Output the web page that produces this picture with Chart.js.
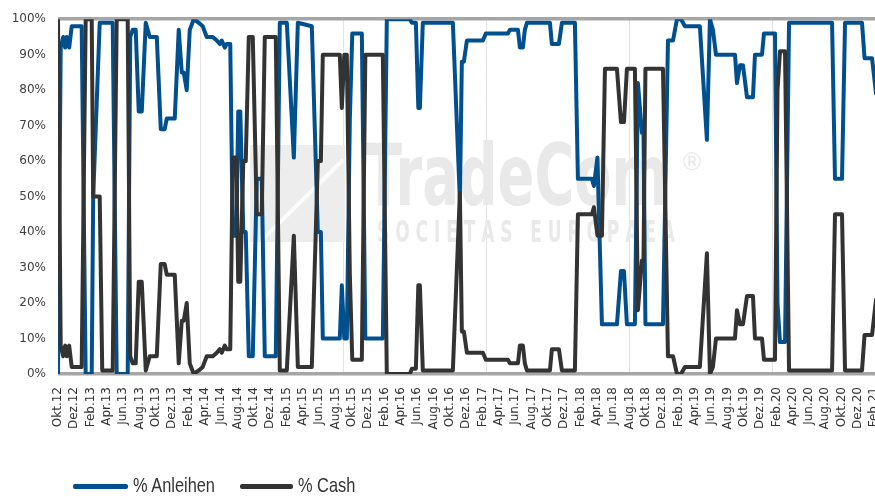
<!DOCTYPE html>
<html>
<head>
<meta charset="utf-8">
<script src="https://cdn.jsdelivr.net/npm/chart.js@4.4.1/dist/chart.umd.min.js"></script>
<style>
  html, body { margin: 0; padding: 0; background: #fff; overflow: hidden; }
  #wrap { position: relative; width: 900px; height: 497px; }
  .swatch { position: absolute; height: 5px; top: 484px; border-radius: 2px; }
  .name {
    position: absolute; top: 473px; white-space: nowrap;
    font-family: "Liberation Sans", Arial, sans-serif; font-size: 21px; color: #333;
    transform: scaleX(0.78); transform-origin: left center;
  }
</style>
</head>
<body>
<div id="wrap">
  <canvas id="allocChart" width="900" height="497"></canvas>
  <div id="legend"></div>
</div>
<script>
// x axis labels, one every 2 months starting Okt.12
const monthLabels = [
  "Okt.12","Dez.12","Feb.13","Apr.13","Jun.13","Aug.13","Okt.13","Dez.13",
  "Feb.14","Apr.14","Jun.14","Aug.14","Okt.14","Dez.14","Feb.15","Apr.15",
  "Jun.15","Aug.15","Okt.15","Dez.15","Feb.16","Apr.16","Jun.16","Aug.16",
  "Okt.16","Dez.16","Feb.17","Apr.17","Jun.17","Aug.17","Okt.17","Dez.17",
  "Feb.18","Apr.18","Jun.18","Aug.18","Okt.18","Dez.18","Feb.19","Apr.19",
  "Jun.19","Aug.19","Okt.19","Dez.19","Feb.20","Apr.20","Jun.20","Aug.20",
  "Okt.20","Dez.20","Feb.21"
];

// observation times in months since Okt.12
const months = [
  0.00, 0.33, 0.64, 0.88, 1.07, 1.37, 1.68, 2.90, 3.39, 4.13,
  4.31, 5.11, 5.42, 6.70, 7.19, 8.54, 8.85, 9.15, 9.52, 9.89,
  10.26, 10.75, 11.24, 12.10, 12.59, 13.07, 13.32, 14.30, 14.79, 15.16,
  15.40, 15.77, 16.14, 16.63, 17.24, 17.73, 18.22, 18.96, 19.45, 19.82,
  20.06, 20.43, 20.67, 21.10, 21.41, 21.84, 22.08, 22.33, 22.70, 23.00,
  23.37, 23.86, 24.35, 24.96, 25.33, 26.68, 27.17, 28.03, 28.89, 29.38,
  31.09, 31.83, 32.20, 32.44, 34.52, 34.77, 35.07, 35.38, 35.75, 36.05,
  37.22, 37.65, 39.79, 40.28, 43.10, 43.35, 43.84, 44.14, 44.33, 44.69,
  48.37, 49.23, 49.47, 49.72, 50.09, 52.05, 52.41, 55.11, 55.36, 56.34,
  56.58, 56.95, 57.19, 57.44, 60.26, 60.50, 61.36, 61.73, 63.32, 63.69,
  65.40, 65.65, 66.08, 66.63, 67.00, 68.47, 68.96, 69.33, 69.69, 70.67,
  71.04, 71.53, 71.72, 71.96, 74.11, 74.72, 75.34, 75.82, 76.31, 76.80,
  78.63, 79.49, 79.86, 80.23, 80.60, 82.93, 83.17, 83.54, 83.91, 84.40,
  85.13, 85.38, 86.24, 86.48, 87.83, 88.14, 88.44, 89.06, 89.55, 94.82,
  95.18, 96.04, 96.41, 98.49, 98.80, 99.72, 100.21
];

const anleihen = [
  0, 92, 95, 92, 95, 92, 98, 98, 0, 0,
  50, 99, 99, 99, 0, 0, 95, 97, 97, 74,
  74, 99, 95, 95, 69, 69, 72, 72, 97, 85,
  85, 80, 97, 100, 99, 98, 95, 95, 94, 93,
  94, 92, 93, 93, 39, 39, 74, 74, 40, 40,
  5, 5, 55, 55, 5, 5, 99, 99, 61, 99,
  98, 40, 40, 10, 10, 25, 10, 10, 72, 96,
  96, 10, 10, 100, 100, 99, 99, 75, 75, 99,
  99, 49, 88, 88, 94, 94, 96, 96, 97, 97,
  92, 92, 97, 99, 99, 93, 93, 99, 99, 55,
  55, 53, 61, 14, 14, 14, 29, 29, 14, 14,
  82, 68, 68, 14, 14, 94, 94, 100, 100, 98,
  98, 66, 100, 97, 90, 90, 82, 87, 87, 78,
  78, 90, 90, 96, 96, 20, 9, 9, 99, 99,
  55, 55, 99, 99, 89, 89, 79
];

const cash = [
  100, 8, 5, 8, 5, 8, 2, 2, 100, 100,
  50, 50, 1, 1, 100, 100, 5, 3, 3, 26,
  26, 1, 5, 5, 31, 31, 28, 28, 3, 15,
  15, 20, 3, 0, 1, 2, 5, 5, 6, 7,
  6, 8, 7, 7, 61, 61, 26, 26, 60, 60,
  95, 95, 45, 45, 95, 95, 1, 1, 39, 2,
  2, 60, 60, 90, 90, 75, 90, 90, 28, 4,
  4, 90, 90, 0, 0, 1.5, 1.5, 25, 25, 1,
  1, 51, 12, 12, 6, 6, 4, 4, 3, 3,
  8, 8, 3, 1, 1, 7, 7, 1, 1, 45,
  45, 47, 39, 39, 86, 86, 71, 71, 86, 86,
  18, 32, 32, 86, 86, 5, 5, 0, 0, 2,
  2, 34, 0, 2, 10, 10, 18, 14, 14, 22,
  22, 10, 10, 4, 4, 80, 91, 91, 1, 1,
  45, 45, 1, 1, 11, 11, 21
];

const BLUE = '#004f8e';
const DARK = '#333333';
const AXIS_GREY = '#a6a6a6';

const toPoints = (ys) => months.map((m, i) => ({ x: m, y: ys[i] }));

// faint company logo behind the lines
const watermark = {
  id: 'watermark',
  beforeDatasetsDraw(chart) {
    const c = chart.ctx;
    const fit = (text, x, y, w) => {
      const m = c.measureText(text).width;
      c.save();
      c.translate(x, y);
      c.scale(w / m, 1);
      c.fillText(text, 0, 0);
      c.restore();
    };
    c.save();
    c.fillStyle = '#ededed';
    c.beginPath();
    c.moveTo(250, 145); c.lineTo(345, 145); c.lineTo(345, 242); c.lineTo(250, 242);
    c.closePath(); c.fill();
    c.strokeStyle = '#fbfbfb'; c.lineWidth = 4;
    c.beginPath(); c.moveTo(262, 240); c.lineTo(343, 160); c.stroke();
    c.fillStyle = '#e9e9e9';
    c.font = 'bold 86px "DejaVu Sans Condensed", sans-serif';
    fit('TradeCom', 365, 205, 303);
    c.font = 'bold 30px "DejaVu Sans Condensed", sans-serif';
    fit('S O C I E T A S   E U R O P A E A', 377, 242, 298);
    c.font = '24px "DejaVu Sans", sans-serif';
    c.fillText('\u00AE', 680, 170);
    c.restore();
  }
};

const ctx = document.getElementById('allocChart').getContext('2d');
new Chart(ctx, {
  type: 'line',
  data: {
    datasets: [
      { label: '% Anleihen', data: toPoints(anleihen), borderColor: BLUE, backgroundColor: BLUE, order: 1 },
      { label: '% Cash', data: toPoints(cash), borderColor: DARK, backgroundColor: DARK, order: 0 }
    ]
  },
  options: {
    responsive: false,
    animation: false,
    layout: { padding: { top: 14, right: 17.5, bottom: 0, left: 0 } },
    elements: {
      line: { borderWidth: 4, tension: 0, borderJoinStyle: 'round', borderCapStyle: 'round', fill: false },
      point: { radius: 0 }
    },
    plugins: {
      legend: { display: false },
      tooltip: { enabled: false }
    },
    scales: {
      x: {
        type: 'linear', min: 0, max: 101,
        afterFit: (s) => { s.height = 123; s.paddingLeft = 0; s.paddingRight = 0; },
        grid: { display: false, drawTicks: false },
        border: { display: false },
        ticks: {
          stepSize: 2, includeBounds: false, autoSkip: false,
          minRotation: 90, maxRotation: 90, padding: 13,
          color: '#333', font: { family: 'DejaVu Sans', size: 12 },
          callback: (v) => monthLabels[v / 2] ?? ''
        }
      },
      x2: {
        type: 'linear', position: 'top', min: 0, max: 101,
        afterFit: (s) => { s.height = 0; s.paddingLeft = 0; s.paddingRight = 0; },
        grid: { color: '#e3e3e3', lineWidth: 1, drawTicks: false },
        border: { display: false },
        ticks: { display: false, stepSize: 17.5, includeBounds: false }
      },
      y: {
        min: 0, max: 100,
        afterFit: (s) => { s.width = 58; },
        border: { display: false },
        grid: {
          drawTicks: false, lineWidth: 3.5,
          color: (c) => (c.tick && (c.tick.value === 0 || c.tick.value === 100)) ? AXIS_GREY : 'rgba(0,0,0,0)'
        },
        ticks: {
          stepSize: 10, padding: 12, color: '#404040',
          font: { family: 'DejaVu Sans', size: 12 },
          callback: (v) => v + '%'
        }
      }
    }
  },
  plugins: [watermark]
});

// legend drawn as html under the chart
const legend = document.getElementById('legend');
[['% Anleihen', BLUE, 73, 128, 133], ['% Cash', DARK, 240, 293, 298]].forEach(([name, col, x0, x1, tx]) => {
  const sw = document.createElement('span');
  sw.className = 'swatch';
  sw.style.background = col;
  sw.style.left = x0 + 'px';
  sw.style.width = (x1 - x0) + 'px';
  const label = document.createElement('span');
  label.className = 'name';
  label.style.left = tx + 'px';
  label.textContent = name;
  legend.appendChild(sw);
  legend.appendChild(label);
});
</script>
</body>
</html>
